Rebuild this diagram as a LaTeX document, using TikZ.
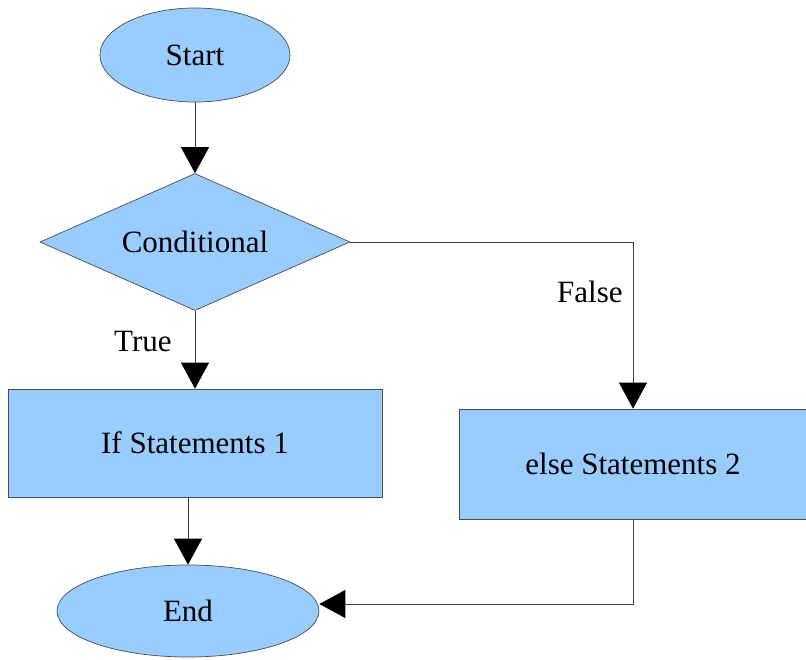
\documentclass[tikz,border=0pt]{standalone}
\usepackage{fontspec}
\setmainfont{Liberation Serif}
\usetikzlibrary{shapes.geometric,arrows.meta}
\definecolor{flowblue}{HTML}{99CCFF}
\tikzset{
    flow-shape/.style = {draw=black!70, fill=flowblue, line width=0.7pt, inner sep=0pt, font=\fontsize{31}{36}\selectfont},
    term-box/.style = {flow-shape, ellipse},
    cond-box/.style = {flow-shape, diamond, aspect=2.26},
    stmt-box/.style = {flow-shape, rectangle},
    flow-line/.style = {draw=black!75, line width=0.8pt, -{Triangle[width=28pt,length=26pt,color=black]}},
    branch-label/.style = {inner sep=0pt, font=\fontsize{31}{36}\selectfont},
}

\begin{document}
\begin{tikzpicture}[x=1pt, y=-1pt]
\useasboundingbox (0,0) rectangle (806,660);

% shapes
\node[term-box, minimum width=190pt, minimum height=94pt] (start) at (195,55) {Start};
\node[cond-box, minimum width=310pt, minimum height=137pt] (cond) at (195,242) {Conditional};
\node[stmt-box, minimum width=374pt, minimum height=108pt] (if-stmt) at (195,443) {If Statements 1};
\node[stmt-box, minimum width=347pt, minimum height=110pt] (else-stmt) at (633,464) {else Statements 2};
\node[term-box, minimum width=262pt, minimum height=92pt] (end) at (188,611) {End};

% connectors
\draw[flow-line] (start) -- (cond);
\draw[flow-line] (cond) -- node[branch-label, left=23pt, pos=0.4] (true-label) {True} (if-stmt);
\draw[flow-line] (cond.east) -| node[branch-label, left=10pt, pos=0.65] (false-label) {False} (else-stmt.north);
\draw[flow-line] (end.north |- if-stmt.south) -- (end.north);
\draw[flow-line] (else-stmt.south) |- ([yshift=7pt]end.east);
\end{tikzpicture}
\end{document}
